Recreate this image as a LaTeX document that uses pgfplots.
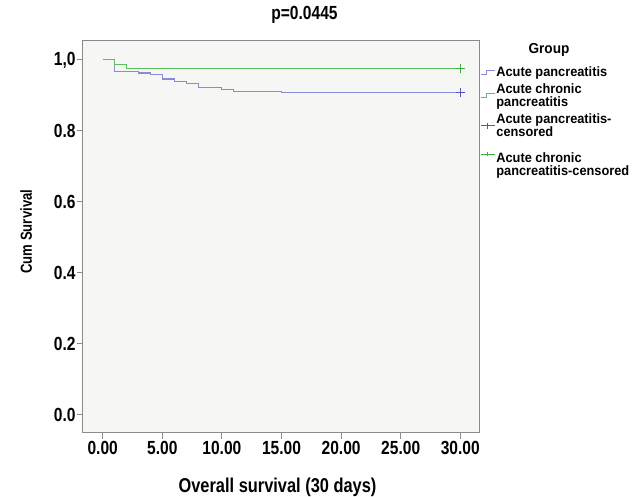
\documentclass[border=0pt]{standalone}
\usepackage{fontspec}
\setmainfont{Liberation Sans}[FakeStretch=0.82]
\newfontfamily\legfont{Liberation Sans}[FakeStretch=0.94]
\usepackage{pgfplots}
\pgfplotsset{compat=1.18}
\definecolor{kmgreen}{HTML}{5CC05C}
\definecolor{kmgreendk}{HTML}{3CAF3C}
\definecolor{kmblue}{HTML}{8A8AD6}
\definecolor{kmbluedk}{HTML}{5656B8}
\definecolor{bgcol}{HTML}{F6F6F4}
\definecolor{framecol}{HTML}{8A8A8A}

% Kaplan-Meier steps
\pgfplotstableread{
t    s
0    1.000
1    0.967
3    0.963
4    0.958
5    0.946
6    0.938
7    0.933
8    0.921
10   0.917
11   0.912
15   0.908
30   0.908
}\acute
\pgfplotstableread{
t    s
0    1.000
1    0.988
2    0.976
30   0.976
}\chronic

\begin{document}
\begin{tikzpicture}
\path[use as bounding box] (-82.7pt,-64.3pt) rectangle (556.3pt,432.7pt);
\begin{axis}[
  at={(0,0)}, anchor=south west,
  scale only axis, width=396.3pt, height=392.7pt,
  xmin=-1.68, xmax=31.57, ymin=-0.05, ymax=1.056,
  clip=false,
  axis background/.style={fill=bgcol},
  axis line style={draw=framecol, line width=0.9pt},
  tick style={draw=framecol, line width=0.9pt},
  tick align=outside, major tick length=6pt,
  xtick pos=bottom, ytick pos=left,
  xtick={0,5,10,15,20,25,30},
  xticklabels={0.00,5.00,10.00,15.00,20.00,25.00,30.00},
  ytick={0,0.2,0.4,0.6,0.8,1},
  yticklabels={0.0,0.2,0.4,0.6,0.8,{1,0}},
  tick label style={font=\bfseries\fontsize{19}{22}\selectfont},
  yticklabel style={inner sep=1pt},
  xticklabel style={inner sep=2pt},
  title={p=0.0445},
  title style={at={(axis description cs:0.5597,1.0357)}, anchor=base,
    font=\bfseries\fontsize{19}{22}\selectfont},
  xlabel={Overall survival (30 days)},
  xlabel style={at={(axis description cs:0.4916,-0.1528)}, anchor=base,
    font=\bfseries\fontsize{20}{24}\selectfont},
  ylabel={Cum Survival},
  ylabel style={at={(axis description cs:-0.128,0.512)}, anchor=base,
    font=\bfseries\fontsize{16}{19}\selectfont},
  legend style={at={(axis description cs:1.003,0.935)}, anchor=north west,
    draw=none, fill=none, row sep=3.3pt, inner sep=0pt,
    font=\legfont\bfseries\fontsize{13.6}{13.4}\selectfont,
    nodes={inner sep=1pt, align=left}},
  legend cell align=left,
]
\addplot[const plot, kmblue, line width=1.1pt,
  legend image code/.code={\draw[kmblue, line width=1pt] (0pt,-2pt) -- (6pt,-2pt) -- (6pt,2pt) -- (14pt,2pt);}]
  table[x=t, y=s] {\acute};
\addlegendentry{Acute pancreatitis}
\addplot[const plot, kmgreen, line width=1.1pt,
  legend image code/.code={\draw[kmgreen, line width=1pt] (0pt,-2pt) -- (6pt,-2pt) -- (6pt,2pt) -- (14pt,2pt);}]
  table[x=t, y=s] {\chronic};
\addlegendentry{Acute chronic\\pancreatitis}
\addplot[only marks, mark=+, mark size=4.5pt, kmbluedk, line width=1pt,
  legend image code/.code={\draw[kmbluedk, line width=1pt] (0pt,0pt) -- (14pt,0pt); \draw[kmbluedk, line width=1pt] (7pt,-3pt) -- (7pt,3pt);}]
  coordinates {(30,0.908)};
\addlegendentry{Acute pancreatitis-\\censored}
\addplot[only marks, mark=+, mark size=4.5pt, kmgreendk, line width=1pt,
  legend image code/.code={\draw[kmgreendk, line width=1pt] (0pt,6pt) -- (14pt,6pt); \draw[kmgreendk, line width=1pt] (7pt,4pt) -- (7pt,8pt);}]
  coordinates {(30,0.976)};
\addlegendentry{\rule{0pt}{19pt}Acute chronic\\pancreatitis-censored}
\node[anchor=base, font=\legfont\bfseries\fontsize{14.5}{16}\selectfont]
  at (axis description cs:1.1767,0.966) {Group};
\end{axis}
\end{tikzpicture}
\end{document}
